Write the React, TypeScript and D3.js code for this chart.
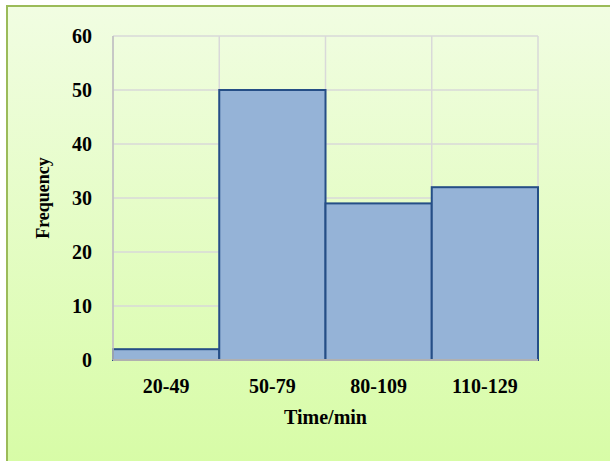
import { useEffect, useRef } from 'react';
import * as d3 from 'd3';

const categories = ['20-49', '50-79', '80-109', '110-129'];
const frequencies = [2, 50, 29, 32];
const yTicks = [0, 10, 20, 30, 40, 50, 60];

const width = 610;
const height = 461;

export default function App() {
  const svgRef = useRef<SVGSVGElement>(null);

  useEffect(() => {
    if (!svgRef.current) return;
    const svg = d3.select(svgRef.current);
    svg.selectAll('*').remove();

    const margin = { top: 36, right: 72, bottom: 101, left: 113 };
    const innerW = width - margin.left - margin.right;
    const innerH = height - margin.top - margin.bottom;

    // background gradient
    const defs = svg.append('defs');
    const grad = defs.append('linearGradient')
      .attr('id', 'bg')
      .attr('x1', 0).attr('y1', 0).attr('x2', 0).attr('y2', 1);
    grad.append('stop').attr('offset', '0%').attr('stop-color', '#f1fde2');
    grad.append('stop').attr('offset', '100%').attr('stop-color', '#d7fca6');

    svg.append('rect')
      .attr('x', 7).attr('y', 6)
      .attr('width', width).attr('height', height)
      .attr('fill', 'url(#bg)')
      .attr('stroke', '#9bbb59')
      .attr('stroke-width', 2);

    const x = d3.scaleBand().domain(categories).range([0, innerW]).padding(0);
    const y = d3.scaleLinear().domain([0, 60]).range([innerH, 0]);

    const g = svg.append('g').attr('transform', `translate(${margin.left},${margin.top})`);

    // horizontal gridlines
    g.selectAll('.hgrid')
      .data(yTicks)
      .enter()
      .append('line')
      .attr('x1', 0).attr('x2', innerW)
      .attr('y1', d => y(d)).attr('y2', d => y(d))
      .attr('stroke', '#d9d9d9')
      .attr('stroke-width', 1.5);

    // vertical gridlines at category boundaries
    const bounds = categories.map(c => x(c)!).concat([innerW]);
    g.selectAll('.vgrid')
      .data(bounds)
      .enter()
      .append('line')
      .attr('x1', d => d).attr('x2', d => d)
      .attr('y1', 0).attr('y2', innerH)
      .attr('stroke', '#d9d9d9')
      .attr('stroke-width', 1.5);

    // bars
    g.selectAll('.bar')
      .data(frequencies)
      .enter()
      .append('rect')
      .attr('x', (_, i) => x(categories[i])!)
      .attr('y', d => y(d))
      .attr('width', x.bandwidth())
      .attr('height', d => innerH - y(d))
      .attr('fill', '#95b3d7')
      .attr('stroke', '#254e86')
      .attr('stroke-width', 2);

    // axes lines
    g.append('line')
      .attr('x1', 0).attr('x2', 0).attr('y1', 0).attr('y2', innerH)
      .attr('stroke', '#bfbfbf').attr('stroke-width', 1.5);
    g.append('line')
      .attr('x1', 0).attr('x2', innerW).attr('y1', innerH).attr('y2', innerH)
      .attr('stroke', '#b0b0b0').attr('stroke-width', 2);

    const font = '"Liberation Serif", "Times New Roman", serif';

    // y tick labels
    g.selectAll('.ytick')
      .data(yTicks)
      .enter()
      .append('text')
      .attr('x', -21)
      .attr('y', d => y(d))
      .attr('dy', '0.35em')
      .attr('text-anchor', 'end')
      .attr('font-family', font)
      .attr('font-weight', 'bold')
      .attr('font-size', 20)
      .attr('fill', '#000')
      .text(d => d.toString());

    // x tick labels
    g.selectAll('.xtick')
      .data(categories)
      .enter()
      .append('text')
      .attr('x', d => x(d)! + x.bandwidth() / 2)
      .attr('y', innerH + 33)
      .attr('text-anchor', 'middle')
      .attr('font-family', font)
      .attr('font-weight', 'bold')
      .attr('font-size', 20)
      .attr('fill', '#000')
      .text(d => d);

    // axis titles
    svg.append('text')
      .attr('x', margin.left + innerW / 2)
      .attr('y', 424)
      .attr('text-anchor', 'middle')
      .attr('font-family', font)
      .attr('font-weight', 'bold')
      .attr('font-size', 20)
      .attr('fill', '#000')
      .text('Time/min');

    svg.append('text')
      .attr('transform', `translate(49,${margin.top + innerH / 2}) rotate(-90)`)
      .attr('text-anchor', 'middle')
      .attr('font-family', font)
      .attr('font-weight', 'bold')
      .attr('font-size', 18)
      .attr('fill', '#000')
      .text('Frequency');
  }, []);

  return (
    <svg
      ref={svgRef}
      width={width}
      height={height}
      style={{ position: 'absolute', left: 0, top: 0, display: 'block' }}
    />
  );
}
